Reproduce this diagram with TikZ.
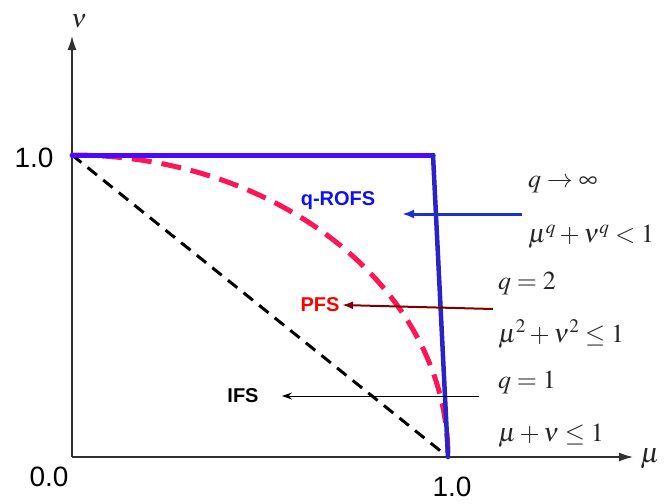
\documentclass[tikz,border=0pt]{standalone}
\usepackage{mathptmx}
\usepackage{fontspec}
\setmainfont{Liberation Sans}
\usetikzlibrary{arrows.meta}
\definecolor{blueH}{HTML}{4B0AFF}
\definecolor{blueV}{HTML}{2A24C8}
\definecolor{blueArr}{HTML}{1A30D0}
\definecolor{redDash}{HTML}{FF1455}
\definecolor{darkRed}{HTML}{800000}
\definecolor{labBlue}{HTML}{1010F0}
\definecolor{labRed}{HTML}{FF0000}
\definecolor{mathGray}{HTML}{262626}
\definecolor{axisGray}{HTML}{303030}
\tikzset{
  axisline/.style={line width=1.4pt, draw=axisGray, -{Latex[length=14pt,width=9pt]}},
  ticklab/.style={font=\fontsize{28}{29}\selectfont, inner sep=0pt},
  eqlab/.style={font=\fontsize{26}{28}\selectfont, text=mathGray, anchor=west, inner sep=0pt},
  setlab/.style={font=\fontsize{20}{22}\selectfont\bfseries, inner sep=0pt},
}
\begin{document}
\begin{tikzpicture}[x=1pt,y=-1pt]
\useasboundingbox (0,0) rectangle (665,504);
% axes
\coordinate (O) at (72,457);
\coordinate (ytip) at (72,36);
\coordinate (xtip) at (633,457);
\coordinate (Y1) at (72,155);
\coordinate (X1) at (448,457);
\coordinate (corner) at (433,155);
\draw[axisline] (O) -- (ytip);
\draw[axisline] (O) -- (xtip);
\node[font=\fontsize{26}{27}\selectfont, text=mathGray, inner sep=0pt] (nu) at (79,21) {$\nu$};
\node[font=\fontsize{28}{29}\selectfont, text=mathGray, inner sep=0pt] (mu) at (650,459) {$\mu$};
\node[ticklab] (t1) at (34,158) {1.0};
\node[ticklab] (t0) at (49,477) {0.0};
\node[ticklab] (tx) at (452,487) {1.0};
% IFS line
\draw[line width=3pt, dash pattern=on 12pt off 8pt] (Y1) -- (X1);
% PFS curve
\draw[line width=5pt, redDash, dash pattern=on 20pt off 10pt] (Y1) arc[start angle=90, end angle=0, x radius=376, y radius=-302];
% q-ROFS boundary
\draw[line width=5pt, blueH, line cap=round] (Y1) -- (corner);
\draw[line width=4.5pt, blueV, line cap=round, line join=round] (corner) -- (X1);
% labels
\node[setlab, text=labBlue] (qrofs) at (338,201) {q-ROFS};
\node[setlab, text=labRed] (pfs) at (320,305) {PFS};
\node[setlab, text=black] (ifs) at (243,396) {IFS};
% equations
\node[eqlab] (e1) at (528,185) {$q\rightarrow\infty$};
\node[eqlab] (e2) at (528,237) {$\mu^{q}+\nu^{q}<1$};
\node[eqlab] (e3) at (498,284) {$q=2$};
\node[eqlab] (e4) at (498,334) {$\mu^{2}+\nu^{2}\leq 1$};
\node[eqlab] (e5) at (498,383) {$q=1$};
\node[eqlab] (e6) at (498,436) {$\mu+\nu\leq 1$};
% arrows
\coordinate (a1s) at (522,214);
\coordinate (a1e) at (402,214);
\coordinate (a2s) at (493,309);
\coordinate (a2e) at (342,305);
\coordinate (a3s) at (479,396);
\coordinate (a3e) at (282,396);
\draw[line width=3pt, blueArr, -{Latex[length=12pt,width=9pt]}] (a1s) -- (a1e);
\draw[line width=2pt, darkRed, -{Latex[length=11pt,width=8pt]}] (a2s) -- (a2e);
\draw[line width=1pt, black, -{Stealth[length=10pt,width=7pt]}] (a3s) -- (a3e);
\end{tikzpicture}
\end{document}
